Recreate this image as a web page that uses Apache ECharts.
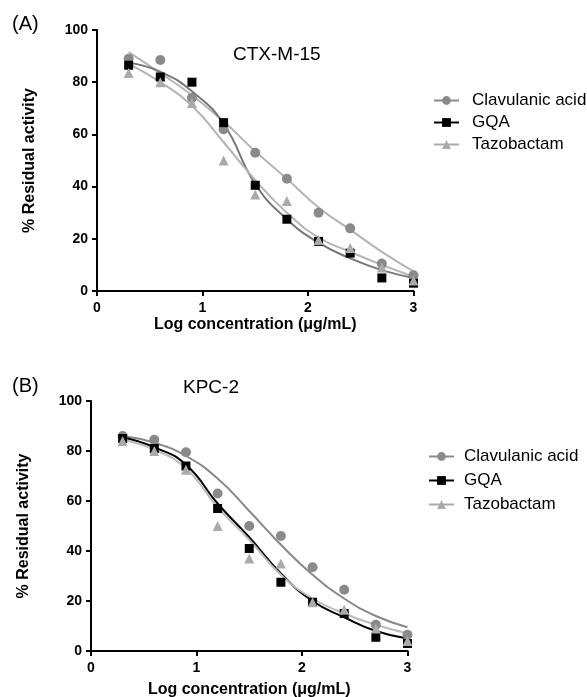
<!DOCTYPE html>
<html>
<head>
<meta charset="utf-8">
<script src="https://cdn.jsdelivr.net/npm/echarts/dist/echarts.min.js"></script>
<style>
  html, body { margin: 0; padding: 0; background: #fff; }
  #chart { width: 587px; height: 697px; }
</style>
</head>
<body>
<div id="chart"></div>
<script>
// log concentrations tested (both panels)
const doses = [0.3, 0.6, 0.9, 1.2, 1.5, 1.8, 2.1, 2.4, 2.7, 3.0];
const xTicks = [0, 1, 2, 3];
const yTicks = [0, 20, 40, 60, 80, 100];
const names = ['Clavulanic acid', 'GQA', 'Tazobactam'];

// (A) CTX-M-15 measured points
const clavA = [89, 88.5, 74, 62, 53, 43, 30, 24, 10.5, 6];
const gqaA = [86.5, 82, 80, 64.5, 40.5, 27.5, 19, 14.5, 5, 3];
const tazoA = [83.5, 80, 72, 50, 37, 34.5, 19.5, 16.5, 9, 4];
// (A) fitted curves, read at the same doses
const clavFitA = [91.5, 83.5, 75, 65, 53.5, 43, 32, 23.5, 15, 7.5];
const gqaFitA = [87.5, 84, 76.5, 64, 41, 27.5, 18.5, 12.5, 8, 5];
const tazoFitA = [87, 80, 71, 57, 42.5, 30, 20.5, 15, 10, 5.5];

// (B) KPC-2 measured points
const clavB = [86, 84.5, 79.5, 63, 50, 46, 33.5, 24.5, 10.5, 6.5];
const gqaB = [85, 81, 74, 57, 41, 27.5, 19.5, 15, 5.5, 3];
const tazoB = [84, 80, 72.5, 50, 37, 35, 19.5, 16.5, 9, 4];
// (B) fitted curves
const clavFitB = [86, 83.3, 78, 69, 56, 42.5, 30.5, 21, 14, 9.5];
const gqaFitB = [85.5, 81.5, 74.5, 59, 45.5, 31, 20, 13.5, 8, 5];
const tazoFitB = [84.5, 80.5, 73, 57.5, 44.5, 30.5, 21, 15, 10.5, 7];

const FONT = 'Liberation Sans, Arial, sans-serif';
const pairs = vals => doses.map((x, i) => [x, vals[i]]);

function fitLine(name, idx, vals, color, symbol) {
  return {
    type: 'line', name, xAxisIndex: idx, yAxisIndex: idx,
    data: pairs(vals), smooth: 0.5, symbol, showSymbol: false,
    lineStyle: { color, width: 2 }, itemStyle: { color },
    silent: true, z: 2,
  };
}
function points(name, idx, vals, color, symbol, size) {
  return {
    type: 'scatter', name, xAxisIndex: idx, yAxisIndex: idx,
    data: pairs(vals), symbol, symbolSize: size,
    itemStyle: { color, opacity: 1 }, silent: true, z: 3,
  };
}
function xAxis(idx, gap) {
  return {
    type: 'value', gridIndex: idx, min: 0, max: 3, interval: 1,
    name: 'Log concentration (\u03bcg/mL)', nameLocation: 'middle', nameGap: gap,
    nameTextStyle: { color: '#000', fontWeight: 'bold', fontSize: 16, fontFamily: FONT },
    axisLine: { onZero: false, lineStyle: { color: '#000', width: 2 } },
    axisTick: { length: 5, lineStyle: { color: '#000', width: 2 } },
    axisLabel: { color: '#000', fontWeight: 'bold', fontSize: 14, fontFamily: FONT, margin: 10,
      formatter: v => (xTicks.includes(v) ? String(v) : '') },
    splitLine: { show: false },
  };
}
function yAxis(idx) {
  return {
    type: 'value', gridIndex: idx, min: 0, max: 100, interval: 20,
    name: '% Residual activity', nameLocation: 'middle', nameGap: 59,
    nameTextStyle: { color: '#000', fontWeight: 'bold', fontSize: 16, fontFamily: FONT },
    axisLine: { show: true, lineStyle: { color: '#000', width: 2 } },
    axisTick: { show: true, length: 5, lineStyle: { color: '#000', width: 2 } },
    axisLabel: { color: '#000', fontWeight: 'bold', fontSize: 14, fontFamily: FONT, margin: 9,
      formatter: v => (yTicks.includes(v) ? String(v) : '') },
    splitLine: { show: false },
  };
}
function legend(top, gap, left, textPad, colors) {
  return {
    orient: 'vertical', left, top, padding: 0, itemGap: gap,
    itemWidth: 25, itemHeight: 11, selectedMode: false,
    textStyle: { color: '#000', fontSize: 17, fontFamily: FONT, padding: [0, 0, 0, textPad] },
    data: names.map((n, i) => ({
      name: n,
      itemStyle: { color: colors[i] },
      lineStyle: { color: colors[i], width: 2 },
    })),
  };
}

const legendColors = ['#8a8a8a', '#000000', '#aaaaaa'];

const option = {
  animation: false,
  backgroundColor: '#fff',
  title: [
    { text: '(A)', left: 12, top: 14, padding: 0, textStyle: { fontSize: 20, fontWeight: 'normal', color: '#000', fontFamily: FONT } },
    { text: 'CTX-M-15', left: 233, top: 45, padding: 0, textStyle: { fontSize: 19, fontWeight: 'normal', color: '#000', fontFamily: FONT } },
    { text: '(B)', left: 12, top: 376, padding: 0, textStyle: { fontSize: 20, fontWeight: 'normal', color: '#000', fontFamily: FONT } },
    { text: 'KPC-2', left: 183, top: 378, padding: 0, textStyle: { fontSize: 19, fontWeight: 'normal', color: '#000', fontFamily: FONT } },
  ],
  legend: [
    legend(92, 5, 433, 8, legendColors),
    legend(448, 7, 428, 5, legendColors),
  ],
  grid: [
    { left: 97, top: 30, width: 316.5, height: 261, outerBoundsMode: 'none' },
    { left: 91, top: 401, width: 316.5, height: 250, outerBoundsMode: 'none' },
  ],
  xAxis: [xAxis(0, 26), xAxis(1, 31)],
  yAxis: [yAxis(0), yAxis(1)],
  series: [
    // panel A curves (first, so legend icons take line + symbol)
    fitLine(names[0], 0, clavFitA, '#b4b4b4', 'circle'),
    fitLine(names[1], 0, gqaFitA, '#777777', 'rect'),
    fitLine(names[2], 0, tazoFitA, '#b4b4b4', 'triangle'),
    points(names[0], 0, clavA, '#8a8a8a', 'circle', 10),
    points(names[1], 0, gqaA, '#000000', 'rect', 9),
    points(names[2], 0, tazoA, '#aaaaaa', 'triangle', 10),
    // panel B
    fitLine(names[0], 1, clavFitB, '#888888', 'circle'),
    fitLine(names[1], 1, gqaFitB, '#000000', 'rect'),
    fitLine(names[2], 1, tazoFitB, '#bbbbbb', 'triangle'),
    points(names[0], 1, clavB, '#8a8a8a', 'circle', 10),
    points(names[1], 1, gqaB, '#000000', 'rect', 9),
    points(names[2], 1, tazoB, '#aaaaaa', 'triangle', 10),
  ],
};

const chart = echarts.init(document.getElementById('chart'), null, { renderer: 'canvas' });
chart.setOption(option);
window.addEventListener('resize', chart.resize);
</script>
</body>
</html>
